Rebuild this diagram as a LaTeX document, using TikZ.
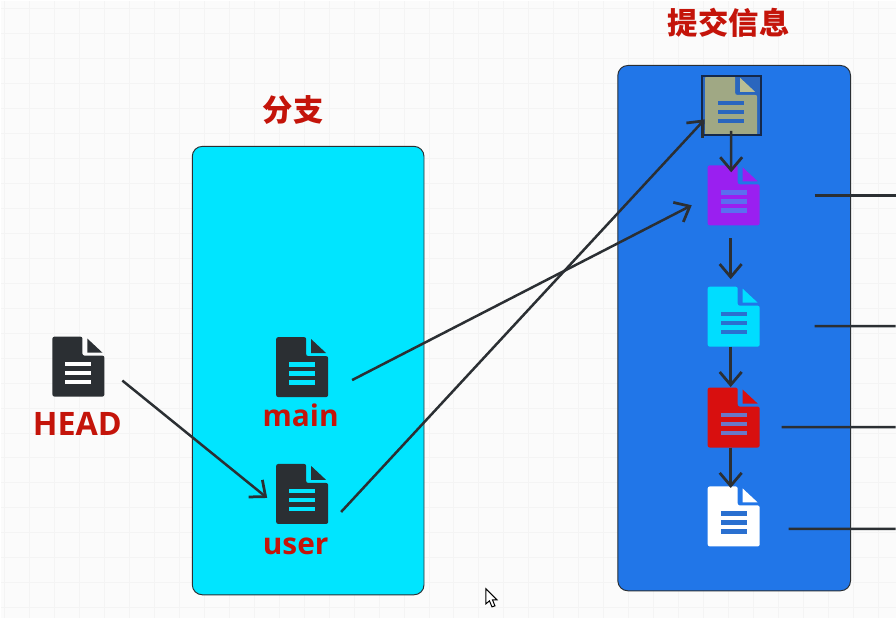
\documentclass[tikz,border=0pt]{standalone}
\usepackage{fontspec}
\setmainfont{Open Sans}
\newfontfamily\cjk{Noto Sans CJK SC}
\usepackage{xcolor}
\usetikzlibrary{arrows.meta}
\definecolor{linkdark}{HTML}{2B2F33}
\definecolor{labelred}{HTML}{C4140A}
\definecolor{panelcyan}{HTML}{00E5FF}
\definecolor{panelblue}{HTML}{2176E8}
\definecolor{gridline}{HTML}{F4F4F4}
\definecolor{pagebg}{HTML}{FBFBFB}
\definecolor{topblue}{HTML}{2A66BE}
\definecolor{olivebody}{HTML}{A0A884}
\definecolor{olivefold}{HTML}{BABE94}
\definecolor{iconpurple}{HTML}{9A1FF0}
\definecolor{purpleline}{HTML}{5A6FF0}
\definecolor{iconcyan}{HTML}{00DDFF}
\definecolor{iconred}{HTML}{D80F0F}
\definecolor{redline}{HTML}{6A78C8}
\definecolor{docline}{HTML}{2A70D0}
\definecolor{topframe}{HTML}{14284A}

\begin{document}
\begin{tikzpicture}[x=0.02cm, y=-0.02cm, >={Straight Barb[length=2.6mm, width=4.4mm, line width=0.055cm]},
  panel/.style={draw=linkdark, line width=0.55pt, rounded corners=0.2cm, inner sep=0},
  link/.style={draw=linkdark, line width=0.05cm},
  label/.style={text=labelred, font=\fontsize{17}{20}\selectfont\bfseries, inner sep=0},
  title/.style={text=labelred, font=\fontsize{17.3}{20}\selectfont\cjk\bfseries, inner sep=0},
  docicon/.style n args={3}{inner sep=0, minimum width=1.04cm, minimum height=1.2cm,
    path picture={
      \begin{scope}[shift={(path picture bounding box.center)}]
        \fill[#1, rounded corners=0.04cm] (-26,-30) -- (4,-30) -- (4,-11) -- (26,-11) -- (26,30) -- (-26,30) -- cycle;
        \fill[#2] (9,-28) -- (24,-14) -- (9,-14) -- cycle;
        \foreach \y in {-5,4,13}{ \fill[#3] (-13,\y) rectangle (13,\y+4.5); }
      \end{scope}}}]
\fill[pagebg] (0,0) rectangle (896,618);
\foreach \x in {4,29,...,896}{ \draw[gridline, line width=0.02cm] (\x,0) -- (\x,618); }
\foreach \y in {8,33,...,618}{ \draw[gridline, line width=0.02cm] (0,\y) -- (896,\y); }
\useasboundingbox (0,0) rectangle (896,618);

\node[panel, fill=panelcyan, minimum width=4.64cm, minimum height=8.98cm] (branches) at (308,370.5) {};
\node[panel, fill=panelblue, minimum width=4.66cm, minimum height=10.52cm] (commits) at (734.5,328) {};

\node[title] (branchtitle) at (293,110) {分支};
\node[title] (committitle) at (729,22) {提交信息};

\node[docicon={linkdark}{linkdark}{white}] (head) at (78,366.5) {};
\node[docicon={linkdark}{linkdark}{panelcyan}] (main) at (302,367) {};
\node[docicon={linkdark}{linkdark}{panelcyan}] (user) at (302,494) {};
\node[label, font=\fontsize{18.4}{20}\selectfont\bfseries] (headlabel) at (77,424) {HEAD};
\node[label] (mainlabel) at (300.5,415) {main};
\node[label] (userlabel) at (295.5,546) {user};

\node[docicon={olivebody}{olivefold}{topblue}, draw=topframe, line width=0.04cm, fill=topblue, minimum width=1.18cm, minimum height=1.18cm] (c0) at (731.5,105.5) {};
\node[docicon={iconpurple}{iconpurple}{purpleline}] (c1) at (734,195) {};
\node[docicon={iconcyan}{iconcyan}{docline}] (c2) at (734,316.5) {};
\node[docicon={iconred}{iconred}{redline}] (c3) at (734,417.5) {};
\node[docicon={white}{white}{docline}] (c4) at (734,516.5) {};

\coordinate (out1) at (896,195);
\coordinate (out2) at (896,326);
\coordinate (out3) at (896,427);
\coordinate (out4) at (896,529);

\draw[link, ->] ([shift={(44,14)}]head.center) -- ([shift={(-35,4)}]user.center);
\draw[link, ->] ([shift={(50,13)}]main.center) -- ([shift={(-42,10)}]c1.center);
\draw[link, ->] ([shift={(39,18)}]user.center) -- ([shift={(-26.5,13.5)}]c0.center);
\draw[link, ->] ([yshift=-0.5cm]c0.center) -- ([shift={(-2.5,-23)}]c1.center);
\draw[link, ->] ([shift={(-3,43)}]c1.center) -- ([shift={(-3,-37.5)}]c2.center);
\draw[link, ->] ([shift={(-3,30)}]c2.center) -- ([shift={(-3,-30.5)}]c3.center);
\draw[link, ->] ([shift={(-3,30)}]c3.center) -- ([shift={(-3,-28.5)}]c4.center);
\draw[link] ([shift={(81,0)}]c1.center) -- (out1);
\draw[link] ([shift={(81,9.5)}]c2.center) -- (out2);
\draw[link] ([shift={(48,9.5)}]c3.center) -- (out3);
\draw[link] ([shift={(55,12.5)}]c4.center) -- (out4);

\draw[fill=white, line width=0.02cm] (486,589) -- (486,604) -- (489.5,601) -- (492,607) -- (495,606) -- (492.5,600) -- (497,600) -- cycle;
\end{tikzpicture}
\end{document}
